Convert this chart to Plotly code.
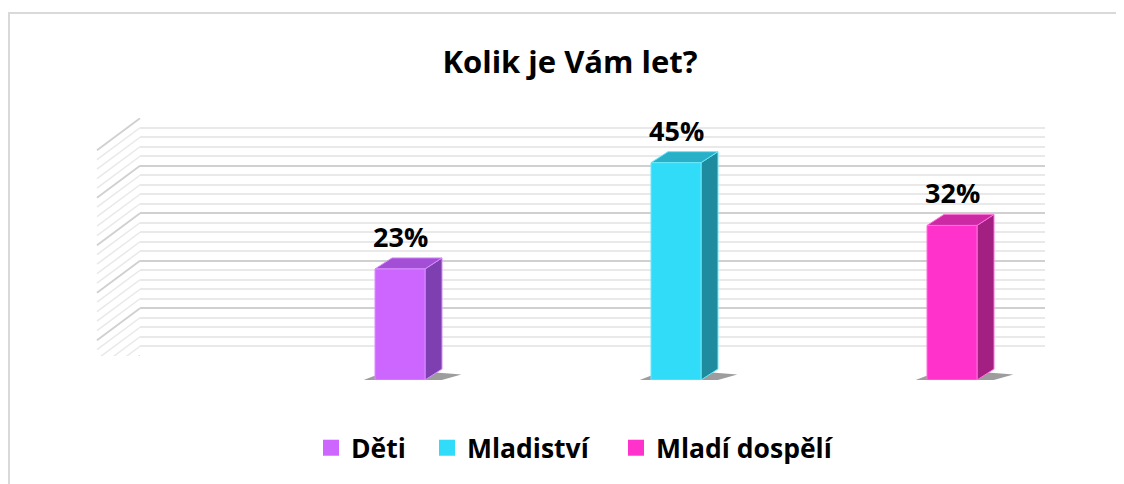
import plotly.graph_objects as go

W, H = 1124, 484
PAGE_OFFSET = 8  # the browser page adds an 8px body margin


def px(x):
    return (x - PAGE_OFFSET) / W


def py(y):
    return 1 - (y - PAGE_OFFSET) / H


# data
categories = ['Děti', 'Mladiství', 'Mladí dospělí']
values = [23, 45, 32]
labels = ['23%', '45%', '32%']
front_colors = ['#CC66FF', '#30DCF8', '#FF33CC']
side_colors = ['#7E3FB0', '#1E8C9E', '#A41F82']
top_colors = ['#A24FD6', '#28B0C8', '#CB2AA4']
edge_colors = ['#DA8CFF', '#6AE8FB', '#FF70DA']

y_max = 50
major_step = 10
minor_step = 2

FONT = 'Open Sans'

# geometry of the fake 3D look (pixels converted to axis units)
wall_ppu = (356 - 118) / y_max        # px per % on the back wall
front_ppu = 4.83                      # px per % on the bar plane
cat_ppu = 276                         # px per category on the bar plane
bar_w = 50 / cat_ppu
depth_dx = 17 / cat_ppu
depth_dy = 11 / front_ppu
wall_depth_dy = 32 / wall_ppu

fig = go.Figure()


def face(xs, ys, fill, edge):
    fig.add_trace(go.Scatter(
        x=xs + xs[:1], y=ys + ys[:1], fill='toself', fillcolor=fill,
        line=dict(color=edge, width=1 if edge else 0), mode='lines',
        hoverinfo='skip', showlegend=False, xaxis='x2', yaxis='y2'))


# bars: shadow, side face, top face, front face
for i, v in enumerate(values):
    xl, xr = i - bar_w / 2, i + bar_w / 2
    face([xl - 0.05, xr + 0.03, xr + depth_dx + 0.07, xl + depth_dx],
         [-0.2, -0.5, depth_dy * 0.5, depth_dy], 'rgba(60,60,60,0.5)', None)
    face([xr, xr + depth_dx, xr + depth_dx, xr],
         [0, depth_dy, v + depth_dy, v], side_colors[i], edge_colors[i])
    face([xl, xl + depth_dx, xr + depth_dx, xr],
         [v, v + depth_dy, v + depth_dy, v], top_colors[i], edge_colors[i])
    face([xl, xr, xr, xl], [0, 0, v, v], front_colors[i], edge_colors[i])

# value labels
for i, v in enumerate(values):
    fig.add_annotation(x=i, y=v + depth_dy, xref='x2', yref='y2',
                       text=labels[i], showarrow=False, yanchor='bottom', yshift=1,
                       font=dict(family=FONT, size=27, color='#000000', weight='bold'))

# legend entries, one legend each so spacing can follow the reference
legend_x = [311, 427, 616]
for i, cat in enumerate(categories):
    lg = 'legend' if i == 0 else 'legend%d' % (i + 1)
    fig.add_trace(go.Scatter(
        x=[None], y=[None], mode='markers', name=cat, legend=lg,
        marker=dict(symbol='square', size=16, color=front_colors[i]),
        xaxis='x2', yaxis='y2'))

legend_style = dict(orientation='h', xanchor='left', yanchor='middle', y=py(448),
                    bgcolor='rgba(0,0,0,0)', itemwidth=30,
                    font=dict(family=FONT, size=26.5, color='#000000', weight='bold'))

# back wall diagonals (left side wall)
for t in range(0, y_max + 1, minor_step):
    major = t % major_step == 0
    fig.add_shape(type='line', xref='paper', yref='y',
                  x0=px(140), y0=t, x1=px(97), y1=t - wall_depth_dy,
                  line=dict(color='#D0D0D0' if major else '#E9E9E9', width=1.8 if major else 1.5),
                  layer='below')

# chart border
fig.add_shape(type='rect', xref='paper', yref='paper',
              x0=px(9), y0=-0.05, x1=1.05, y1=py(13),
              line=dict(color='#D9D9D9', width=2), layer='below')

fig.update_layout(
    width=W, height=H,
    margin=dict(l=0, r=0, t=0, b=0),
    paper_bgcolor='#FFFFFF', plot_bgcolor='rgba(0,0,0,0)',
    title=dict(text='<b>Kolik je Vám let?</b>', x=px(570), xanchor='center',
               y=py(62), yanchor='middle',
               font=dict(family=FONT, size=31, color='#000000')),
    xaxis=dict(domain=[px(140), px(1045)], range=[0, 1], visible=False, fixedrange=True),
    yaxis=dict(domain=[py(356), py(118)], range=[-0.05, y_max + 0.05], anchor='x',
               showticklabels=False, zeroline=False, showline=False, ticks='',
               showgrid=True, dtick=major_step, tick0=0, gridcolor='#D0D0D0', gridwidth=1.8,
               minor=dict(dtick=minor_step, tick0=0, showgrid=True, gridcolor='#E9E9E9',
                          gridwidth=1.5, ticks='')),
    xaxis2=dict(domain=[0, 1], range=[(PAGE_OFFSET - 400) / cat_ppu, (W + PAGE_OFFSET - 400) / cat_ppu],
                anchor='y2', visible=False, fixedrange=True),
    yaxis2=dict(domain=[py(380), py(380 - y_max * front_ppu)], range=[0, y_max], anchor='x2',
                visible=False, fixedrange=True),
    legend=dict(legend_style, x=px(legend_x[0])),
    legend2=dict(legend_style, x=px(legend_x[1])),
    legend3=dict(legend_style, x=px(legend_x[2])),
)

fig.write_html("out.html")
